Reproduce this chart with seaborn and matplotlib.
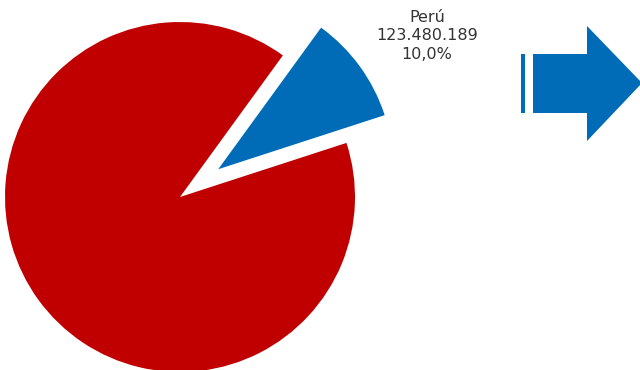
import matplotlib
matplotlib.use("Agg")
import matplotlib.pyplot as plt
import seaborn as sns
from matplotlib.patches import Polygon, Rectangle

# data
countries = ["Perú", "Resto"]
shares = [10.0, 90.0]
peru_value = 123480189
colors = ["#006BB6", "#C00000"]


def fmt_int(v):
    return f"{v:,}".replace(",", ".")


def main():
    sns.set_theme(style="white")
    plt.rcParams["font.family"] = ["DejaVu Sans"]

    fig = plt.figure(figsize=(6.4, 3.7), dpi=100)
    ax = fig.add_axes([0, 0, 1, 1])

    ax.pie(shares, colors=colors, startangle=18, counterclock=True,
           explode=[0.27, 0.0], radius=1.0,
           wedgeprops=dict(linewidth=0))

    # 1 unit = 175 px, pie centre at (180, 197) px
    ax.set_aspect("auto")
    ax.set_xlim(-180 / 175, 460 / 175)
    ax.set_ylim(-173 / 175, 197 / 175)
    ax.axis("off")

    label = f"{countries[0]}\n{fmt_int(peru_value)}\n{shares[0]:.1f}%".replace(".0%", ",0%")
    fig.text(427 / 640, 1 - 36 / 370, label, ha="center", va="center",
             fontsize=11.5, color="#333333", linespacing=1.3)

    # arrow overlay in pixel coordinates
    ov = fig.add_axes([0, 0, 1, 1], facecolor="none")
    ov.set_xlim(0, 640)
    ov.set_ylim(370, 0)
    ov.axis("off")
    ov.add_patch(Rectangle((521, 54), 3.5, 59, color=colors[0], lw=0))
    ov.add_patch(Polygon([(533, 54), (587, 54), (587, 26), (642, 83),
                          (587, 141), (587, 113), (533, 113)],
                         closed=True, color=colors[0], lw=0))

    fig.savefig("out.png", dpi=100)


if __name__ == "__main__":
    main()
